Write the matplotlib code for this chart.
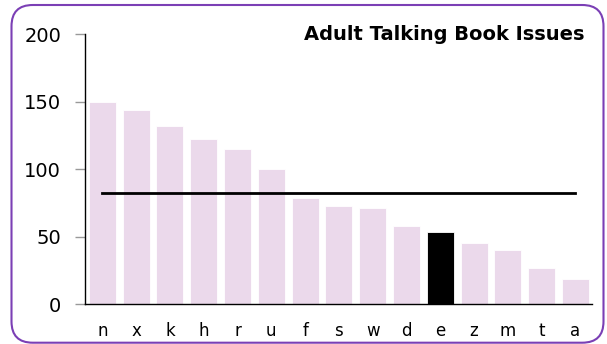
import numpy as np
import matplotlib.pyplot as plt
from matplotlib.patches import FancyBboxPatch

# issues per branch, sorted high to low
branches = ["n", "x", "k", "h", "r", "u", "f", "s", "w", "d", "e", "z", "m", "t", "a"]
issues = [150, 144, 132, 122, 115, 100, 79, 72.5, 71, 58, 53.5, 45, 40, 27, 19]
average = 82
highlight = "e"

bar_colour = "#ebd9eb"
border_colour = "#7b3fb5"

plt.rcParams['font.family'] = ['Verdana', 'DejaVu Sans']

fig = plt.figure(figsize=(6.07, 3.44), dpi=100)
ax = fig.add_axes([84.8 / 607, 1 - 304.3 / 344, (592.3 - 84.8) / 607, (304.3 - 34) / 344])

x = np.arange(len(branches))
colours = ["black" if b == highlight else bar_colour for b in branches]
ax.bar(x, issues, width=0.8, color=colours, edgecolor="white", linewidth=0.6)
ax.plot([x[0], x[-1]], [average, average], color="black", linewidth=2)

ax.set_xlim(-0.52, len(branches) - 0.5)
ax.set_ylim(0, 200)
ax.set_yticks([0, 50, 100, 150, 200])
ax.tick_params(axis="y", labelsize=14, length=7, width=1, color="#999999", pad=10)
ax.set_xticks(x)
ax.set_xticklabels(branches)
ax.tick_params(axis="x", labelsize=12, length=0, pad=13)

for side in ["top", "right"]:
    ax.spines[side].set_visible(False)
ax.spines["left"].set_linewidth(1)
ax.spines["bottom"].set_linewidth(1)

fig.text(585 / 607, 1 - 34 / 344, "Adult Talking Book Issues", ha="right", va="center",
         fontsize=14, fontweight="bold")

# rounded frame around the whole chart
frame = FancyBboxPatch((11.5 / 607, 1.3 / 344), (603.5 - 11.5) / 607, (342.7 - 5) / 344,
                       boxstyle="round,pad=0,rounding_size=0.035",
                       transform=fig.transFigure, facecolor="none",
                       edgecolor=border_colour, linewidth=1.5, mutation_aspect=607 / 344)
fig.patches.append(frame)

fig.savefig("out.png", dpi=100)
